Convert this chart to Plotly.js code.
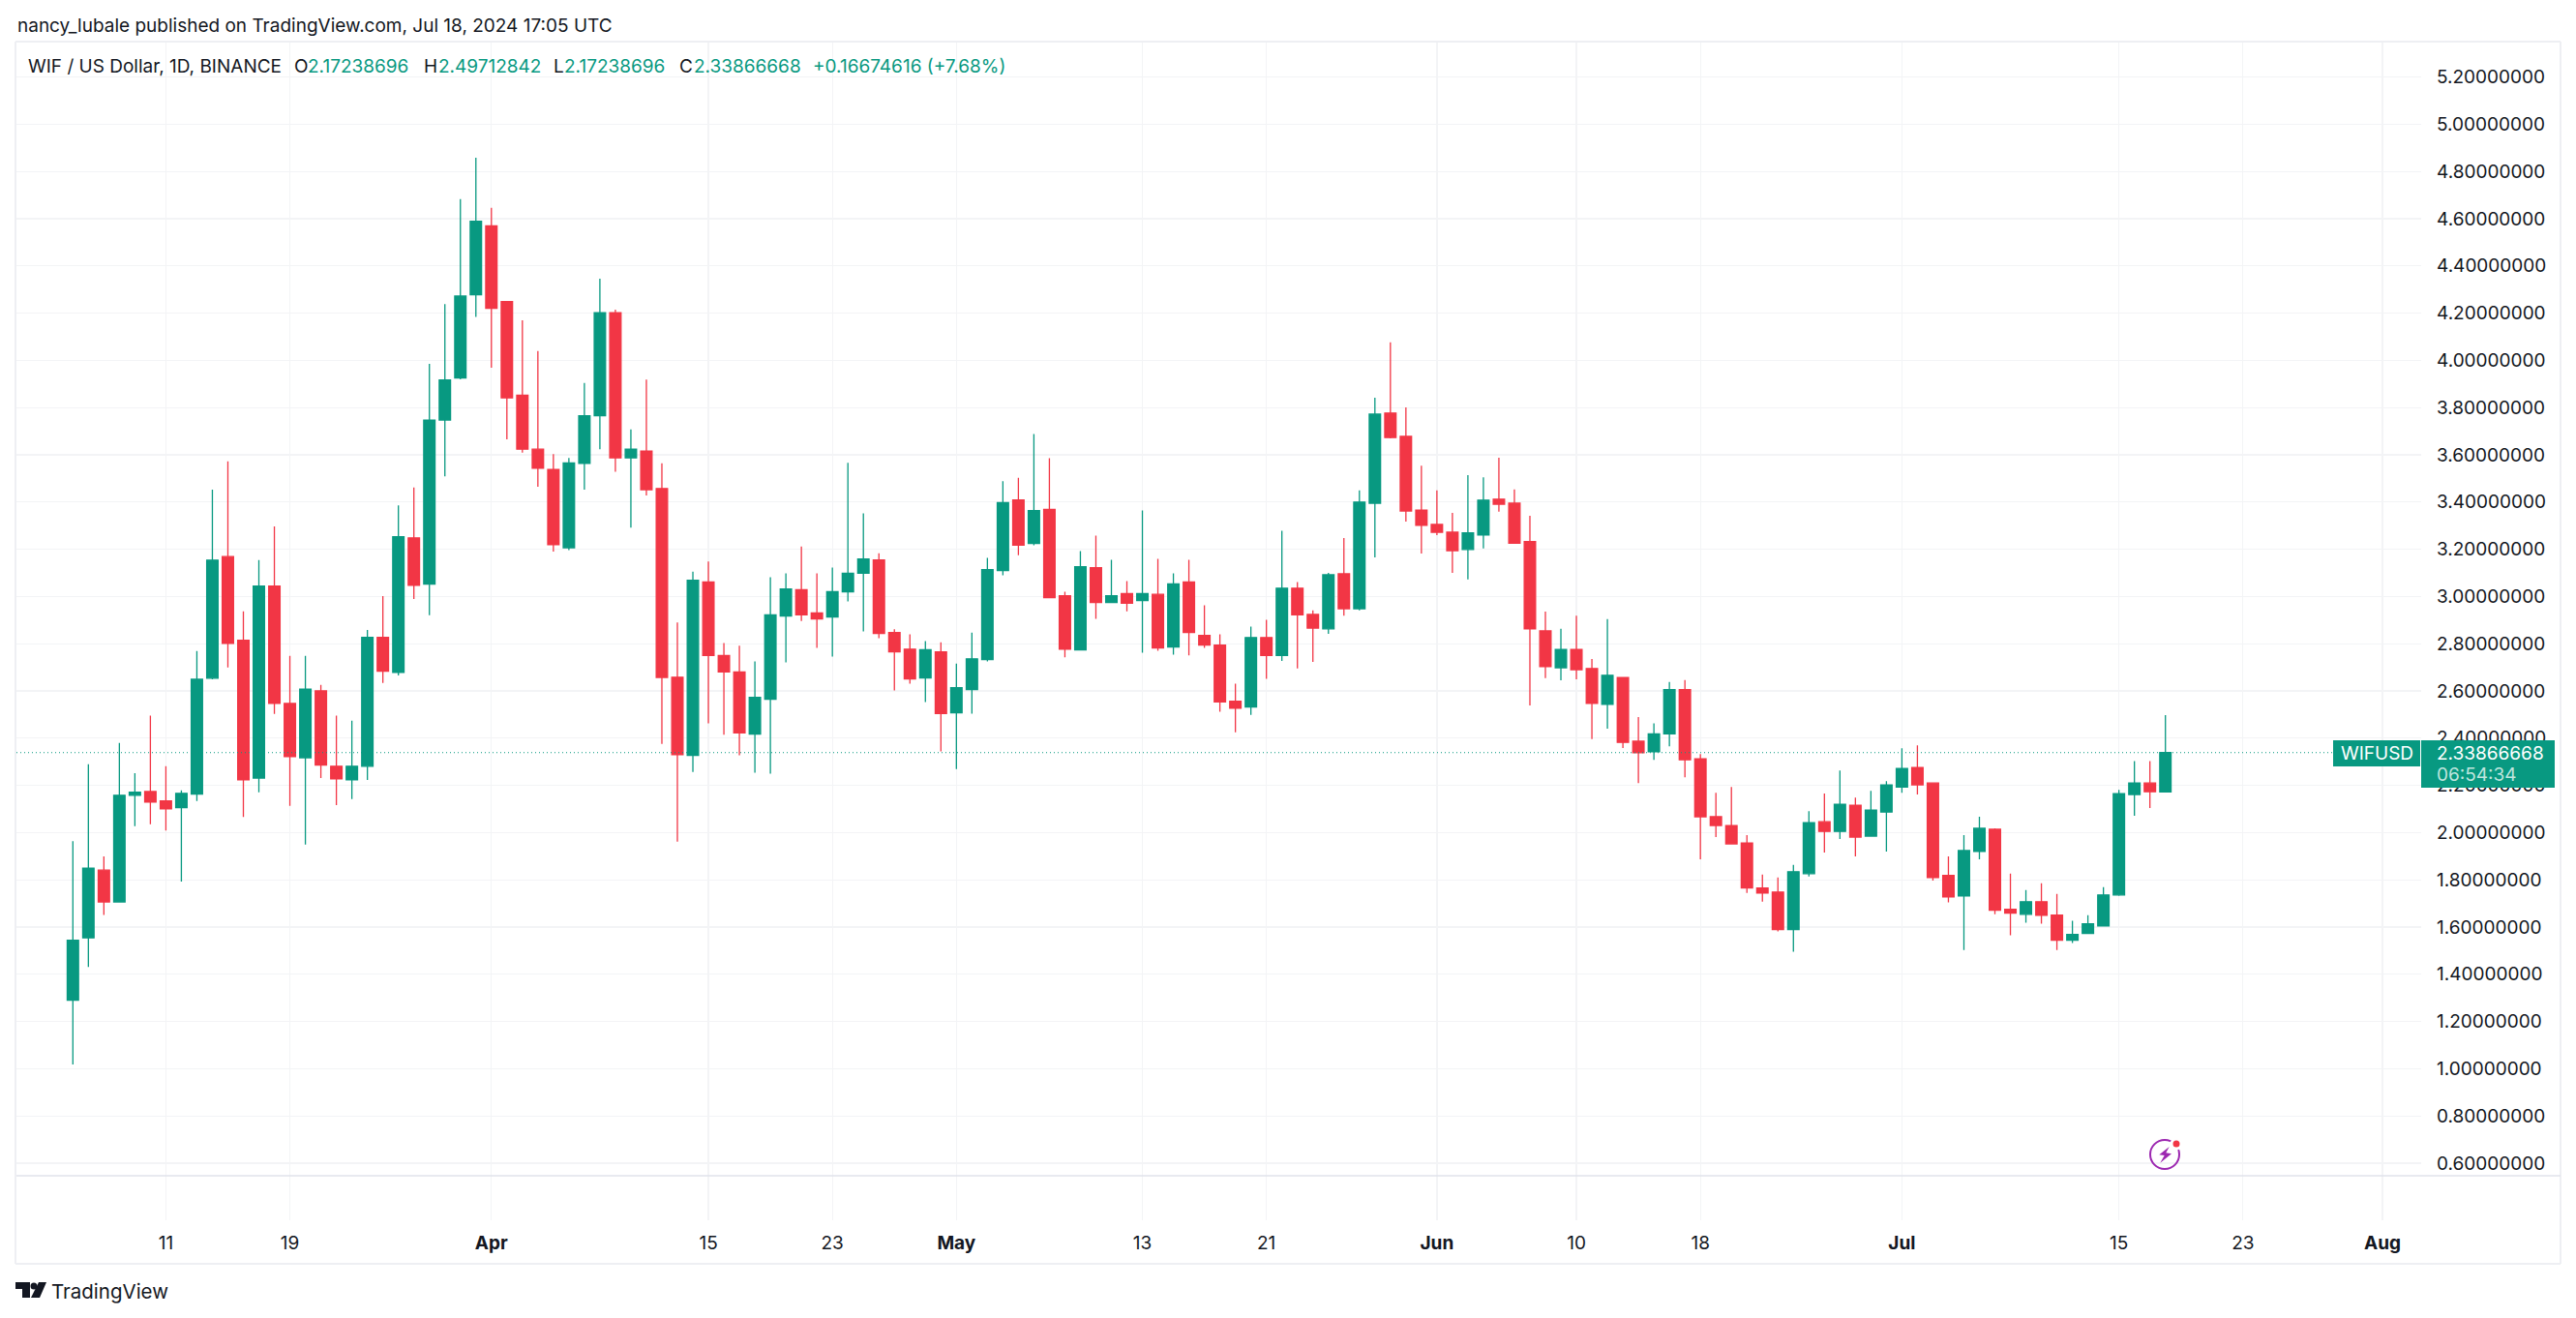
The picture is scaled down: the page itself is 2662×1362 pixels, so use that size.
<!DOCTYPE html>
<html>
<head>
<meta charset="utf-8">
<script src="https://cdn.plot.ly/plotly-3.0.1.min.js"></script>
<style>
html, body { margin:0; padding:0; background:#fff; }
#grafica { width:2662px; height:1362px; }
</style>
</head>
<body>
<div id="grafica"></div>
<script>
var dias = [
  '2024-03-05','2024-03-06','2024-03-07','2024-03-08','2024-03-09','2024-03-10','2024-03-11','2024-03-12','2024-03-13','2024-03-14','2024-03-15','2024-03-16','2024-03-17','2024-03-18','2024-03-19','2024-03-20','2024-03-21','2024-03-22','2024-03-23','2024-03-24','2024-03-25','2024-03-26','2024-03-27','2024-03-28','2024-03-29','2024-03-30','2024-03-31',
  '2024-04-01','2024-04-02','2024-04-03','2024-04-04','2024-04-05','2024-04-06','2024-04-07','2024-04-08','2024-04-09','2024-04-10','2024-04-11','2024-04-12','2024-04-13','2024-04-14','2024-04-15','2024-04-16','2024-04-17','2024-04-18','2024-04-19','2024-04-20','2024-04-21','2024-04-22','2024-04-23','2024-04-24','2024-04-25','2024-04-26','2024-04-27','2024-04-28','2024-04-29','2024-04-30',
  '2024-05-01','2024-05-02','2024-05-03','2024-05-04','2024-05-05','2024-05-06','2024-05-07','2024-05-08','2024-05-09','2024-05-10','2024-05-11','2024-05-12','2024-05-13','2024-05-14','2024-05-15','2024-05-16','2024-05-17','2024-05-18','2024-05-19','2024-05-20','2024-05-21','2024-05-22','2024-05-23','2024-05-24','2024-05-25','2024-05-26','2024-05-27','2024-05-28','2024-05-29','2024-05-30','2024-05-31',
  '2024-06-01','2024-06-02','2024-06-03','2024-06-04','2024-06-05','2024-06-06','2024-06-07','2024-06-08','2024-06-09','2024-06-10','2024-06-11','2024-06-12','2024-06-13','2024-06-14','2024-06-15','2024-06-16','2024-06-17','2024-06-18','2024-06-19','2024-06-20','2024-06-21','2024-06-22','2024-06-23','2024-06-24','2024-06-25','2024-06-26','2024-06-27','2024-06-28','2024-06-29','2024-06-30',
  '2024-07-01','2024-07-02','2024-07-03','2024-07-04','2024-07-05','2024-07-06','2024-07-07','2024-07-08','2024-07-09','2024-07-10','2024-07-11','2024-07-12','2024-07-13','2024-07-14','2024-07-15','2024-07-16','2024-07-17','2024-07-18'
];

var apertura = [
  1.290,1.554,1.841,1.706,2.158,2.174,2.134,2.106,2.163,2.654,3.169,2.814,2.231,3.044,2.547,2.317,2.600,2.281,2.223,2.281,2.827,2.678,3.248,3.052,3.747,3.925,4.278,
  4.570,4.249,3.852,3.624,3.538,3.206,3.564,3.765,4.202,3.587,3.616,3.457,2.658,2.327,3.061,2.750,2.680,2.417,2.565,2.917,3.029,2.930,2.913,3.020,3.098,3.155,2.847,2.777,2.655,2.765,
  2.507,2.606,2.733,3.110,3.409,3.224,3.369,3.003,2.774,3.122,2.974,3.012,2.983,3.009,2.786,3.061,2.835,2.794,2.556,2.532,2.826,2.750,3.035,2.924,2.863,3.096,2.948,3.395,3.777,3.678,3.366,
  3.305,3.272,3.199,3.260,3.412,3.395,3.232,2.854,2.698,2.776,2.695,2.543,2.657,2.387,2.342,2.418,2.605,2.312,2.067,2.030,1.956,1.765,1.748,1.589,1.826,2.046,2.005,2.116,1.985,2.087,
  2.193,2.275,2.210,1.818,1.732,1.920,2.014,1.675,1.654,1.707,1.650,1.544,1.573,1.605,1.736,2.161,2.210,2.17238696
];
var maximo = [
  1.964,2.289,1.899,2.380,2.252,2.495,2.281,2.179,2.769,3.452,3.572,2.937,3.154,3.297,2.748,2.748,2.626,2.495,2.474,2.858,3.002,3.386,3.462,3.985,4.238,4.683,4.858,
  4.646,4.249,4.170,4.040,3.603,3.587,3.904,4.346,4.215,3.708,3.919,3.564,2.890,3.105,3.148,2.803,2.791,2.725,3.081,3.098,3.212,3.098,3.122,3.566,3.352,3.183,2.861,2.840,2.811,2.806,
  2.716,2.847,3.163,3.488,3.503,3.688,3.586,3.020,3.192,3.258,3.155,3.065,3.364,3.159,3.098,3.155,2.963,2.840,2.631,2.872,2.901,3.278,3.061,2.941,3.100,3.247,3.449,3.842,4.076,3.801,3.554,
  3.449,3.354,3.514,3.505,3.588,3.453,3.342,2.936,2.863,2.919,2.735,2.904,2.657,2.489,2.463,2.638,2.646,2.332,2.169,2.193,1.989,1.822,1.810,1.863,2.091,2.165,2.263,2.148,2.177,2.218,
  2.357,2.369,2.210,1.899,1.989,2.067,2.018,1.826,1.757,1.785,1.740,1.626,1.650,1.769,2.181,2.303,2.303,2.49712842
];
var minimo = [
  1.018,1.431,1.651,1.703,2.027,2.035,2.009,1.792,2.134,2.649,2.699,2.066,2.171,2.503,2.113,1.949,2.231,2.116,2.142,2.223,2.634,2.665,2.989,2.921,3.509,3.920,4.184,
  3.969,3.666,3.609,3.465,3.190,3.196,3.452,3.624,3.528,3.292,3.428,2.375,1.962,2.257,2.463,2.414,2.327,2.254,2.249,2.721,2.896,2.782,2.745,2.979,2.852,2.823,2.602,2.631,2.553,2.344,
  2.269,2.504,2.725,3.090,3.175,3.217,2.995,2.742,2.774,2.905,2.974,2.937,2.762,2.770,2.754,2.750,2.782,2.512,2.425,2.498,2.651,2.727,2.695,2.723,2.842,2.919,2.941,3.165,3.670,3.317,3.182,
  3.260,3.100,3.072,3.203,3.359,3.226,2.538,2.654,2.645,2.649,2.396,2.440,2.358,2.210,2.308,2.365,2.234,1.887,1.981,1.952,1.744,1.707,1.581,1.495,1.814,1.915,1.973,1.899,1.985,1.920,
  2.169,2.161,1.797,1.704,1.503,1.887,1.654,1.565,1.618,1.614,1.503,1.532,1.573,1.605,1.732,2.071,2.104,2.17238696
];
var cierre = [
  1.544,1.849,1.706,2.158,2.171,2.129,2.100,2.166,2.649,3.154,2.801,2.223,3.044,2.547,2.322,2.607,2.286,2.228,2.281,2.827,2.683,3.253,3.047,3.747,3.917,4.272,4.589,
  4.220,3.841,3.624,3.543,3.219,3.566,3.765,4.202,3.587,3.624,3.452,2.657,2.330,3.069,2.750,2.680,2.422,2.573,2.922,3.032,2.922,2.905,3.020,3.098,3.159,2.843,2.765,2.651,2.774,2.504,
  2.614,2.736,3.114,3.397,3.217,3.364,2.995,2.777,3.126,2.974,3.003,2.971,3.012,2.782,3.053,2.847,2.794,2.553,2.527,2.826,2.750,3.035,2.922,2.866,3.092,2.948,3.400,3.772,3.673,3.362,3.301,
  3.272,3.194,3.269,3.408,3.391,3.226,2.863,2.703,2.776,2.690,2.547,2.666,2.382,2.338,2.418,2.605,2.308,2.067,2.030,1.952,1.765,1.744,1.589,1.834,2.042,2.005,2.120,1.981,2.095,2.202,
  2.271,2.202,1.810,1.728,1.924,2.018,1.671,1.659,1.707,1.650,1.544,1.569,1.614,1.736,2.165,2.210,2.173,2.33866668
];

var marcas_x = ['2024-03-11','2024-03-19','2024-04-01','2024-04-15','2024-04-23','2024-05-01','2024-05-13','2024-05-21','2024-06-01','2024-06-10','2024-06-18','2024-07-01','2024-07-15','2024-07-23','2024-08-01'];
var textos_x = ['11','19','<b>Apr</b>','15','23','<b>May</b>','13','21','<b>Jun</b>','10','18','<b>Jul</b>','15','23','<b>Aug</b>'];
var marcas_y = [0.6,0.8,1.0,1.2,1.4,1.6,1.8,2.0,2.2,2.4,2.6,2.8,3.0,3.2,3.4,3.6,3.8,4.0,4.2,4.4,4.6,4.8,5.0,5.2];

var verde = '#089981';
var rojo = '#F23645';
var tinta = '#131722';
var fuente = 'Inter, sans-serif';

// panel en pixeles
var panel = {l:17, r:2502, t:43, b:1261};

function px_x(x){ return (x - panel.l) / (panel.r - panel.l); }
function px_y(y){ return (panel.b - y) / (panel.b - panel.t); }

function texto(x, y, txt, color, size, anchor){
    return {
        xref:'paper', yref:'paper', x:px_x(x), y:px_y(y),
        text:txt, showarrow:false, xanchor:anchor || 'left', yanchor:'middle',
        font:{family:fuente, size:size, color:color}
    };
}

function caja(x0, y0, x1, y1, color){
    return {type:'rect', xref:'paper', yref:'paper', x0:px_x(x0), x1:px_x(x1), y0:px_y(y0), y1:px_y(y1), fillcolor:color, line:{width:0}};
}

function linea(x0, y0, x1, y1, color, w){
    return {type:'line', xref:'paper', yref:'paper', x0:px_x(x0), x1:px_x(x1), y0:px_y(y0), y1:px_y(y1), line:{color:color, width:w}};
}

function camino(puntos, color){
    var d = puntos.map(function(p, i){ return (i ? 'L' : 'M') + px_x(p[0]) + ',' + px_y(p[1]); }).join(' ') + ' Z';
    return {type:'path', xref:'paper', yref:'paper', path:d, fillcolor:color, line:{width:0}};
}

function circulo(cx, cy, r, fill, borde, w){
    return {type:'circle', xref:'paper', yref:'paper', x0:px_x(cx - r), x1:px_x(cx + r), y0:px_y(cy + r), y1:px_y(cy - r), fillcolor:fill, line:{color:borde, width:w}};
}

function grafica_wif(){
    var ultimo = cierre[cierre.length - 1];

    var velas = {
        type:'candlestick',
        x:dias, open:apertura, high:maximo, low:minimo, close:cierre,
        whiskerwidth:0,
        increasing:{line:{color:verde, width:1.3}, fillcolor:verde},
        decreasing:{line:{color:rojo, width:1.3}, fillcolor:rojo},
        hoverinfo:'skip',
        showlegend:false
    };

    var figuras = [
        // marco y separador
        linea(16, 43, 2646, 43, '#eeeff3', 2),
        linea(16, 43, 16, 1306, '#eeeff3', 2),
        linea(2646, 43, 2646, 1306, '#eeeff3', 2),
        linea(16, 1306, 2646, 1306, '#eeeff3', 2),
        linea(17, 1215, 2646, 1215, '#e0e3eb', 1.5),
        // linea del ultimo precio
        {type:'line', xref:'paper', yref:'y', x0:0, x1:px_x(2411), y0:ultimo, y1:ultimo, line:{color:verde, width:1, dash:'1px,3px'}},
        // etiquetas de precio
        caja(2411, 765, 2501, 792, verde),
        caja(2502, 765, 2640, 814, verde),
        // icono rayo
        circulo(2237, 1193, 15, 'rgba(0,0,0,0)', '#9C27B0', 2),
        camino([[2241.7,1185],[2231.3,1193.3],[2236.7,1194],[2232.3,1201.7],[2244,1192.3],[2238.3,1191.3]], '#9C27B0'),
        circulo(2249, 1182, 5, rojo, '#ffffff', 3),
        // logo
        camino([[16,1325],[31,1325],[31,1341],[23,1341],[23,1332],[16,1332]], tinta),
        circulo(35, 1329, 3.5, tinta, tinta, 0),
        camino([[40,1325],[48,1325],[41,1341],[32,1341]], tinta)
    ];

    var textos = [
        texto(16, 26, 'nancy_lubale published on TradingView.com, Jul 18, 2024 17:05 UTC', tinta, 19),
        texto(27, 68, 'WIF / US Dollar, 1D, BINANCE', tinta, 19),
        texto(302, 68, 'O', tinta, 19),
        texto(316, 68, '2.17238696', verde, 19),
        texto(436, 68, 'H', tinta, 19),
        texto(451, 68, '2.49712842', verde, 19),
        texto(570, 68, 'L', tinta, 19),
        texto(581, 68, '2.17238696', verde, 19),
        texto(700, 68, 'C', tinta, 19),
        texto(715, 68, '2.33866668', verde, 19),
        texto(838, 68, '+0.16674616 (+7.68%)', verde, 19),
        texto(2456, 778.5, 'WIFUSD', '#ffffff', 19, 'center'),
        texto(2516, 778, '2.33866668', '#ffffff', 19),
        texto(2516, 800, '06:54:34', '#bfe5de', 19),
        texto(51, 1334, 'TradingView', tinta, 20.5)
    ];

    var layout = {
        width:2662,
        height:1362,
        margin:{l:panel.l, r:2662 - panel.r, t:panel.t, b:1362 - panel.b, pad:0},
        paper_bgcolor:'#ffffff',
        plot_bgcolor:'#ffffff',
        boxgap:0.27,
        boxgroupgap:0,
        showlegend:false,
        hovermode:false,
        font:{family:fuente, size:19, color:tinta},
        xaxis:{
            type:'date',
            range:['2024-03-01 08:38','2024-08-03 12:00'],
            rangeslider:{visible:false},
            tickmode:'array', tickvals:marcas_x, ticktext:textos_x,
            showgrid:true, gridcolor:'#f3f4f6', gridwidth:1.3,
            zeroline:false, showline:false, ticks:'',
            ticklabelstandoff:10,
            tickfont:{family:fuente, size:19, color:tinta}
        },
        yaxis:{
            side:'right',
            range:[0.358, 5.35],
            tickmode:'array', tickvals:marcas_y,
            tickformat:'.8f',
            showgrid:true, gridcolor:'#f3f4f6', gridwidth:1.3,
            zeroline:false, showline:false, ticks:'',
            ticklabelstandoff:15,
            tickfont:{family:fuente, size:19, color:tinta}
        },
        shapes:figuras,
        annotations:textos
    };

    Plotly.newPlot('grafica', [velas], layout, {displayModeBar:false, staticPlot:true});
}

grafica_wif();
</script>
</body>
</html>
